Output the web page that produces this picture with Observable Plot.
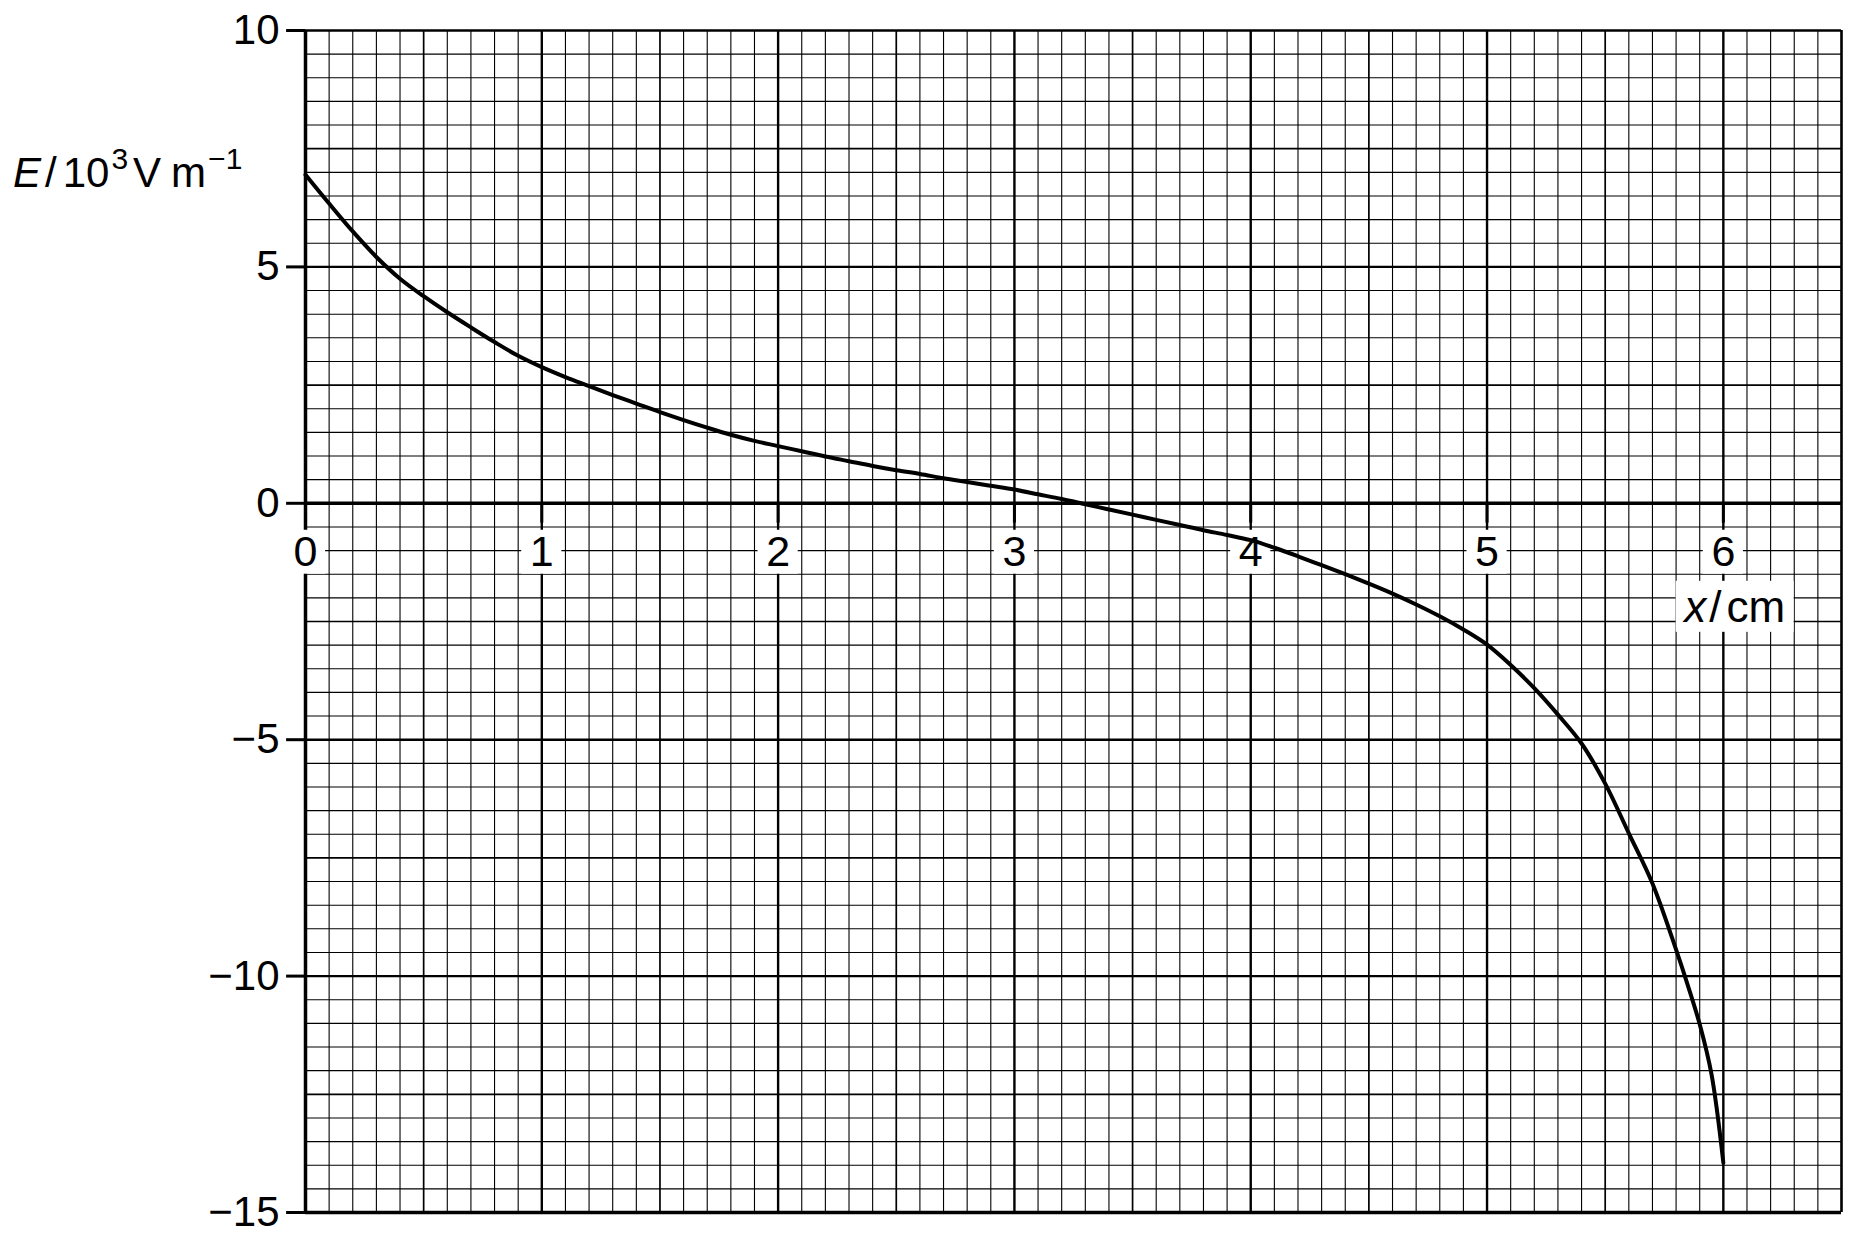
<!DOCTYPE html>
<html>
<head>
<meta charset="utf-8">
<script src="https://cdn.jsdelivr.net/npm/d3@7"></script>
<script src="https://cdn.jsdelivr.net/npm/@observablehq/plot@0.6"></script>
<style>
  html, body { margin: 0; padding: 0; background: #fff; overflow: hidden; }
  #chart svg { display: block; }
</style>
</head>
<body>
<div id="chart"></div>
<script>
// ---- data ----
const xCm = [0.0, 0.1, 0.2, 0.3, 0.4, 0.5, 0.6, 0.7, 0.8, 0.9,
             1.0, 1.1, 1.2, 1.3, 1.4, 1.5, 1.6, 1.7, 1.8, 1.9,
             2.0, 2.1, 2.2, 2.3, 2.4, 2.5, 2.6, 2.7, 2.8, 2.9,
             3.0, 3.1, 3.2, 3.3, 3.4, 3.5, 3.6, 3.7, 3.8, 3.9,
             4.0, 4.1, 4.2, 4.3, 4.4, 4.5, 4.6, 4.7, 4.8, 4.9,
             5.0, 5.1, 5.2, 5.3, 5.4, 5.5, 5.6, 5.7, 5.8, 5.85, 5.9, 5.95, 6.0];
const eField = [6.95, 6.34, 5.75, 5.21, 4.75, 4.38, 4.04, 3.72, 3.41, 3.12,
                2.88, 2.67, 2.48, 2.29, 2.11, 1.93, 1.76, 1.60, 1.45, 1.32,
                1.21, 1.10, 0.99, 0.89, 0.79, 0.70, 0.62, 0.53, 0.45, 0.37,
                0.29, 0.19, 0.09, -0.02, -0.13, -0.24, -0.35, -0.46, -0.57, -0.67,
                -0.78, -0.94, -1.12, -1.31, -1.50, -1.70, -1.91, -2.14, -2.39, -2.67,
                -2.99, -3.42, -3.91, -4.47, -5.08, -5.93, -6.98, -8.04, -9.44, -10.2, -11.02, -12.08, -13.95];
const xTicks = [0, 1, 2, 3, 4, 5, 6];
const xTickLabels = ["0", "1", "2", "3", "4", "5", "6"];
const yTicks = [10, 5, 0, -5, -10, -15];
const yTickLabels = ["10", "5", "0", "\u22125", "\u221210", "\u221215"];
const xDomain = [0, 6.5];
const yDomain = [-15, 10];

const curve = xCm.map((x, i) => ({x, e: eField[i]}));

// graph-paper grid positions
const vMinor = d3.range(0, 66).filter(i => i % 5 !== 0).map(i => i / 10);
const vMedium = d3.range(0, 66).filter(i => i % 5 === 0 && i % 10 !== 0).map(i => i / 10);
const vMajor = [1, 2, 3, 4, 5, 6];
const hMinor = d3.range(-30, 21).filter(j => j % 5 !== 0).map(j => j / 2);
const hMedium = d3.range(-30, 21).filter(j => j % 5 === 0 && j % 10 !== 0).map(j => j / 2);
const hMajor = [5, -5, -10];

const FONT = "'Liberation Sans', Arial, Helvetica, sans-serif";

const plot = Plot.plot({
  width: 1854,
  height: 1240,
  marginLeft: 305,
  marginRight: 13,
  marginTop: 30,
  marginBottom: 28,
  style: {fontFamily: FONT, background: "white", color: "black"},
  x: {domain: xDomain, axis: null},
  y: {domain: yDomain, axis: null},
  marks: [
    Plot.ruleX(vMinor, {stroke: "#000", strokeWidth: 1.1}),
    Plot.ruleY(hMinor, {stroke: "#000", strokeWidth: 1.1}),
    Plot.ruleX(vMedium, {stroke: "#000", strokeWidth: 1.7}),
    Plot.ruleY(hMedium, {stroke: "#000", strokeWidth: 1.7}),
    Plot.ruleX(vMajor, {stroke: "#000", strokeWidth: 2.4}),
    Plot.ruleY(hMajor, {stroke: "#000", strokeWidth: 2.4}),
    Plot.ruleY([10], {stroke: "#000", strokeWidth: 2.7}),
    Plot.ruleY([-15], {stroke: "#000", strokeWidth: 3.3}),
    Plot.ruleX([6.5], {stroke: "#000", strokeWidth: 2.4}),
    Plot.ruleX([0], {stroke: "#000", strokeWidth: 3.5}),
    Plot.ruleY([0], {stroke: "#000", strokeWidth: 3.5}),
    // tick marks
    Plot.ruleX(xTicks, {x: d => d, y1: 0, y2: -0.42, stroke: "#000", strokeWidth: 3}),
    Plot.ruleY(yTicks, {y: d => d, x1: -0.08, x2: 0, stroke: "#000", strokeWidth: 3}),
    // white boxes behind x tick labels
    Plot.rect(xTicks, {x1: d => d - 0.085, x2: d => d + 0.085, y1: -0.57, y2: -1.5, fill: "white"}),
    Plot.text(xTicks, {x: d => d, y: -1.04, text: (d, i) => xTickLabels[i], fontSize: 43, fill: "#000"}),
    Plot.text(yTicks, {x: -0.11, y: d => d, text: (d, i) => yTickLabels[i], textAnchor: "end", fontSize: 42, fill: "#000"}),
    // the curve
    Plot.line(curve, {x: "x", y: "e", curve: "catmull-rom", stroke: "#000", strokeWidth: 4})
  ]
});

document.getElementById("chart").appendChild(plot);

// axis titles with italic symbols and superscripts
const svg = d3.select(plot);
const sx = plot.scale("x"), sy = plot.scale("y");

// y title: E / 10^3 V m^-1
const yt = svg.append("text")
  .attr("x", 13).attr("y", 187)
  .attr("text-anchor", "start")
  .attr("font-family", FONT).attr("font-size", 42).attr("fill", "#000");
yt.append("tspan").attr("font-style", "italic").text("E");
yt.append("tspan").attr("dx", 4).text("/");
yt.append("tspan").attr("dx", 6).text("10");
yt.append("tspan").attr("dy", -18).attr("dx", 2).attr("font-size", 30).text("3");
yt.append("tspan").attr("dy", 18).attr("dx", 5).text("V");
yt.append("tspan").attr("dx", 10).text("m");
yt.append("tspan").attr("dy", -18).attr("dx", 2).attr("font-size", 30).text("\u22121");

// x title: x / cm with white box
const bx = sx.apply(6.05), by = sy.apply(-2.2);
svg.append("rect")
  .attr("x", bx - 59).attr("y", by - 26).attr("width", 118).attr("height", 51)
  .attr("fill", "white");
const xt = svg.append("text")
  .attr("x", bx).attr("y", by + 15)
  .attr("text-anchor", "middle")
  .attr("font-family", FONT).attr("font-size", 44).attr("fill", "#000");
xt.append("tspan").attr("font-style", "italic").text("x");
xt.append("tspan").attr("dx", 3).text("/");
xt.append("tspan").attr("dx", 5).text("cm");
</script>
</body>
</html>
